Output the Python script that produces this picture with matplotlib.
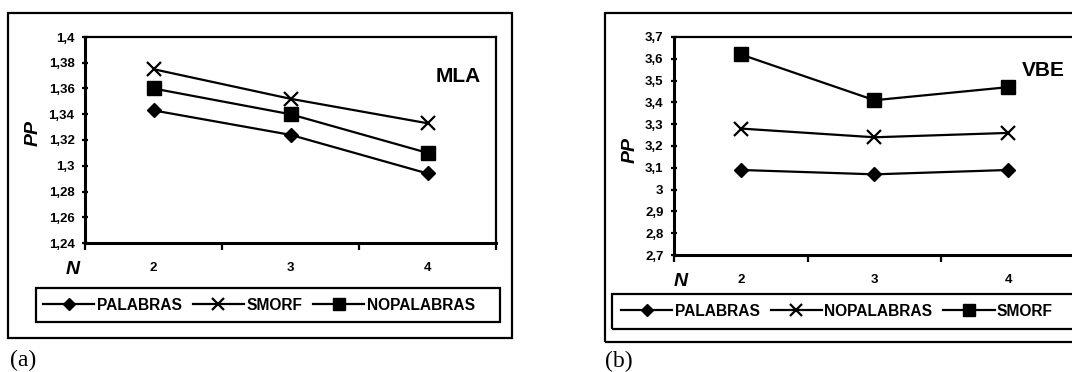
import numpy as np
import matplotlib
matplotlib.use("Agg")
import matplotlib.pyplot as plt
from matplotlib.patches import Rectangle

# data
n_values = [2, 3, 4]

mla_palabras = [1.343, 1.324, 1.294]
mla_smorf = [1.375, 1.352, 1.333]
mla_nopalabras = [1.360, 1.340, 1.310]
mla_yticks = [1.24, 1.26, 1.28, 1.30, 1.32, 1.34, 1.36, 1.38, 1.40]

vbe_palabras = [3.09, 3.07, 3.09]
vbe_nopalabras = [3.28, 3.24, 3.26]
vbe_smorf = [3.62, 3.41, 3.47]
vbe_yticks = [2.7, 2.8, 2.9, 3.0, 3.1, 3.2, 3.3, 3.4, 3.5, 3.6, 3.7]

W, H = 1072, 372
plt.rcParams['font.family'] = ['Liberation Sans', 'DejaVu Sans']
plt.rcParams['font.weight'] = 'bold'

fig = plt.figure(figsize=(W / 100, H / 100), dpi=100)


def fx(x):
    return x / W


def fy(y):
    return 1 - y / H


def box(x0, y0, x1, y1, lw=1.6):
    fig.add_artist(Rectangle((fx(x0), fy(y1)), (x1 - x0) / W, (y1 - y0) / H,
                             fill=False, lw=lw, ec='black', transform=fig.transFigure))


def comma(v):
    return f"{round(v, 2):g}".replace('.', ',')


def panel(rect, series, yticks, name, name_xy, n_xy, pp_xy, leg_xy):
    x0, y0, x1, y1 = rect
    ax = fig.add_axes([fx(x0), fy(y1), (x1 - x0) / W, (y1 - y0) / H])
    styles = {'D': dict(marker='D', ms=7.5),
              'x': dict(marker='x', ms=10, mew=1.6),
              's': dict(marker='s', ms=10)}
    for label, vals, st in series:
        ax.plot(n_values, vals, color='black', lw=1.6, label=label, **styles[st])
    ax.set_xlim(1.5, 4.5)
    ax.set_ylim(yticks[0], yticks[-1])
    ax.set_yticks(yticks)
    ax.set_yticklabels([comma(v) for v in yticks], fontsize=9.5, fontweight='bold')
    ax.set_xticks([1.5, 2.5, 3.5, 4.5])
    ax.set_xticklabels([])
    ax.set_xticks(n_values, minor=True)
    ax.set_xticklabels([str(v) for v in n_values], minor=True, fontsize=9.5, fontweight='bold')
    ax.tick_params(axis='x', which='minor', length=0, pad=14)
    ax.tick_params(axis='x', which='major', length=5, width=1.6, direction='out')
    ax.tick_params(axis='y', length=5, width=1.6, direction='inout', pad=5)
    for s in ['left', 'bottom']:
        ax.spines[s].set_linewidth(2.2)
    for s in ['top', 'right']:
        ax.spines[s].set_linewidth(1.6)
    fig.text(fx(name_xy[0]), fy(name_xy[1]), name, fontsize=15, fontweight='bold',
             ha='left', va='center')
    fig.text(fx(n_xy[0]), fy(n_xy[1]), 'N', fontsize=14, fontweight='bold',
             style='italic', ha='left', va='center')
    fig.text(fx(pp_xy[0]), fy(pp_xy[1]), 'PP', fontsize=14, fontweight='bold',
             style='italic', ha='center', va='center', rotation=90)
    fig.legend(*ax.get_legend_handles_labels(), loc='center left',
               bbox_to_anchor=(fx(leg_xy[0]), fy(leg_xy[1])), ncol=3,
               frameon=False, handlelength=3.3, handletextpad=0.15,
               columnspacing=0.7, markerscale=0.8, borderpad=0, borderaxespad=0,
               prop={'weight': 'bold', 'size': 11.2})
    return ax


# (a) MLA
box(8, 13, 512, 338)
box(36, 288, 500, 322)
panel((85, 37, 496, 243),
      [('PALABRAS', mla_palabras, 'D'),
       ('SMORF', mla_smorf, 'x'),
       ('NOPALABRAS', mla_nopalabras, 's')],
      mla_yticks, 'MLA', (436, 77), (66, 270), (33, 133), (43, 305))
fig.text(fx(10), fy(360), '(a)', fontsize=17, family='Liberation Serif',
         fontweight='normal', ha='left', va='center')

# (b) VBE
box(605, 13, 1090, 342)
box(612, 294, 1090, 329)
panel((674, 37, 1075, 255),
      [('PALABRAS', vbe_palabras, 'D'),
       ('NOPALABRAS', vbe_nopalabras, 'x'),
       ('SMORF', vbe_smorf, 's')],
      vbe_yticks, 'VBE', (1022, 70), (674, 282), (630, 150), (621, 311))
fig.text(fx(605), fy(361), '(b)', fontsize=17, family='Liberation Serif',
         fontweight='normal', ha='left', va='center')

fig.savefig('out.png', dpi=100)
